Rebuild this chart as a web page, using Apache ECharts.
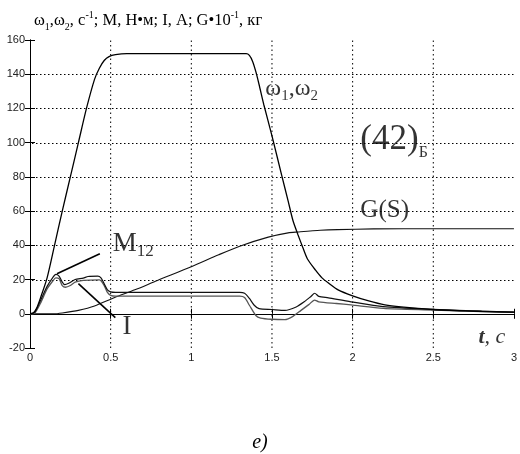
<!DOCTYPE html>
<html>
<head>
<meta charset="utf-8">
<script src="https://cdn.jsdelivr.net/npm/echarts@6/dist/echarts.min.js"></script>
<style>
  html, body { margin: 0; padding: 0; background: #fff; }
  #chart { width: 520px; height: 454px; }
</style>
</head>
<body>
<div id="chart"></div>
<script>
// Tick labels
const xTickLabels = ['0', '0.5', '1', '1.5', '2', '2.5', '3'];
const yTickLabels = ['-20', '0', '20', '40', '60', '80', '100', '120', '140', '160'];

// Angular speeds ω1, ω2 (c^-1) versus time t (c)
const omega = [
  [0, 0], [0.02, 0.5], [0.04, 3], [0.064, 9], [0.106, 21], [0.152, 40], [0.2, 60],
  [0.25, 80], [0.3, 100], [0.35, 120], [0.4, 137], [0.43, 143.5], [0.46, 148],
  [0.49, 150.3], [0.53, 151.4], [0.6, 152], [1.34, 152], [1.36, 151], [1.38, 147.5],
  [1.4, 141.5], [1.42, 134], [1.45, 122], [1.5, 104], [1.56, 81], [1.6, 66],
  [1.63, 54.5], [1.66, 46.5], [1.69, 39], [1.72, 32], [1.77, 25.5], [1.81, 21],
  [1.85, 18], [1.91, 14], [2.0, 10.5], [2.1, 7.5], [2.2, 5.2], [2.3, 4], [2.5, 2.5],
  [2.7, 1.7], [2.85, 1.3], [3, 1]
];

// Torque M12 (Н·м)
const torqueM12 = [
  [0, 0], [0.03, 1], [0.064, 7.5], [0.106, 16], [0.14, 21], [0.16, 23], [0.18, 22],
  [0.2, 18.5], [0.215, 17], [0.24, 17.8], [0.28, 20], [0.33, 20.8], [0.36, 21.8],
  [0.42, 22], [0.44, 21], [0.46, 17.5], [0.48, 14], [0.5, 12.8], [0.53, 12.5],
  [1.3, 12.5], [1.33, 12], [1.36, 9], [1.39, 5], [1.42, 3], [1.5, 2.5], [1.58, 2],
  [1.65, 4], [1.7, 7], [1.74, 10], [1.765, 12], [1.79, 10.2], [1.85, 9.3],
  [1.99, 7], [2.19, 4.2], [2.5, 2.6], [2.8, 1.5], [3, 1]
];

// Current I (A)
const currentI = [
  [0, 0], [0.03, 0.5], [0.064, 6], [0.106, 14.5], [0.14, 19], [0.16, 21], [0.18, 20.5],
  [0.2, 16.5], [0.22, 15.5], [0.25, 16.5], [0.28, 18.5], [0.33, 19.5], [0.43, 19.8],
  [0.46, 16.5], [0.48, 12.5], [0.5, 10.8], [0.53, 10.3], [1.3, 10.3], [1.33, 9.5],
  [1.36, 5], [1.4, -1], [1.43, -2.5], [1.5, -3.2], [1.58, -3.4], [1.63, -1.5],
  [1.68, 2], [1.73, 5.5], [1.764, 8], [1.79, 7], [1.9, 6], [1.99, 5.2], [2.19, 3.2],
  [2.5, 2.2], [2.8, 1.2], [3, 0.8]
];

// Mass G(S), scaled by 10^-1 (кг)
const massG = [
  [0, 0], [0.15, 0], [0.2, 0.5], [0.3, 2], [0.4, 4.5], [0.525, 9.5], [0.65, 14],
  [0.79, 19.5], [1.0, 27.5], [1.17, 34.5], [1.3, 39.5], [1.477, 44.8], [1.6, 47.3],
  [1.66, 47.8], [1.8, 48.8], [1.907, 49.2], [2.13, 49.6], [2.5, 49.7], [3, 49.7]
];

const serif = '"Liberation Serif", "DejaVu Serif", serif';

const chart = echarts.init(document.getElementById('chart'), null, { renderer: 'canvas' });

const curve = (data, color, width) => ({
  type: 'line', data, showSymbol: false, smooth: 0.25, animation: false,
  lineStyle: { color, width }, z: 3
});

const pointer = (from, to) => ({
  type: 'line', data: [from, to], showSymbol: false, animation: false,
  lineStyle: { color: '#000', width: 1.6 }, z: 4
});

const textMark = (pos, text, rich) => ({
  type: 'scatter', symbolSize: 0, animation: false, silent: true, z: 5,
  data: [pos],
  label: {
    show: true, position: 'right', distance: 0,
    formatter: text, rich
  }
});

// Grid through the inner ticks
const innerX = xTickLabels.slice(1, -1).map(Number);
const innerY = yTickLabels.slice(1, -1).map(Number);

// vertical dotted lines
const verticalGrid = innerX.map(v => ({
  type: 'line', data: [[v, -20], [v, 160]], showSymbol: false, silent: true,
  animation: false, z: 1, lineStyle: { color: '#000', type: [1.5, 3], width: 1 }
}));

// horizontal dotted lines, built from small filled dots along each tick level
const horizontalGrid = {
  type: 'custom', silent: true, animation: false, z: 1,
  data: innerY.map(v => [v]),
  encode: { y: 0 },
  renderItem: (params, api) => {
    const v = api.value(0);
    const left = api.coord([0, v]);
    const right = api.coord([3, v]);
    const y = Math.round(left[1]);
    const dots = [];
    for (let x = Math.round(left[0]) + 2; x < right[0] - 1; x += 4) {
      dots.push({
        type: 'rect',
        shape: { x: x, y: y, width: 1.5, height: 1 },
        style: { fill: '#000' }
      });
    }
    return { type: 'group', children: dots };
  }
};

const axisCommon = {
  type: 'value',
  axisLine: { show: true, lineStyle: { color: '#000', width: 1 } },
  axisTick: { show: true, inside: true, length: 5, lineStyle: { color: '#000', width: 1 } },
  splitLine: { show: false }
};

chart.setOption({
  animation: false,
  backgroundColor: '#fff',
  title: [
    {
      left: 29, top: 5,
      text: '{t|ω}{sb|1}{t|,ω}{sb|2}{t|, c}{sp|-1}{t|; M, Н•м; I, A; G•10}{sp|-1}{t|, кг}',
      textStyle: {
        fontWeight: 'normal',
        rich: {
          t: { fontFamily: serif, fontSize: 16.5, fontWeight: 'normal', color: '#000', lineHeight: 22 },
          sb: { fontFamily: serif, fontSize: 10, fontWeight: 'normal', color: '#000', verticalAlign: 'bottom', lineHeight: 22 },
          sp: { fontFamily: serif, fontSize: 10, fontWeight: 'normal', color: '#000', verticalAlign: 'top', lineHeight: 22 }
        }
      }
    },
    {
      left: 'center', top: 428,
      text: 'e)',
      textStyle: { fontFamily: serif, fontSize: 20, fontStyle: 'italic', fontWeight: 'normal', color: '#000' }
    }
  ],
  grid: { left: 30, right: 2, top: 40, bottom: 106, show: false },
  xAxis: [
    Object.assign({}, axisCommon, {
      min: 0, max: 3, interval: 0.5, position: 'bottom',
      axisLabel: {
        margin: 4, color: '#222', fontFamily: '"Liberation Sans", Arial, sans-serif', fontSize: 11,
        formatter: v => xTickLabels[Math.round(v / 0.5)]
      }
    }),
    Object.assign({}, axisCommon, {
      min: 0, max: 3, interval: 0.5, position: 'top',
      axisLabel: { show: false }
    })
  ],
  yAxis: [
    Object.assign({}, axisCommon, {
      min: -20, max: 160, interval: 20, position: 'left',
      axisLabel: {
        margin: 5, color: '#222', fontFamily: '"Liberation Sans", Arial, sans-serif', fontSize: 11,
        formatter: v => yTickLabels[Math.round((v + 20) / 20)]
      }
    }),
    Object.assign({}, axisCommon, {
      min: -20, max: 160, interval: 20, position: 'right',
      axisLabel: { show: false }
    })
  ],
  series: verticalGrid.concat([
    horizontalGrid,
    curve(massG, '#111', 1.1),
    curve(currentI, '#555', 1.3),
    curve(torqueM12, '#111', 1.2),
    curve(omega, '#000', 1.3),
    pointer([0.433, 35.1], [0.167, 23.4]),
    pointer([0.30, 17.6], [0.529, -2.2]),
    textMark([1.459, 131.6], '{m|ω}{s|1}{m|,ω}{s|2}', {
      m: { fontFamily: serif, fontSize: 24, color: '#000', lineHeight: 30 },
      s: { fontFamily: serif, fontSize: 15, color: '#000', verticalAlign: 'bottom', lineHeight: 30 }
    }),
    textMark([2.048, 101.8], '{m|(42)}{s|Б}', {
      m: { fontFamily: serif, fontSize: 35, color: '#000', lineHeight: 42 },
      s: { fontFamily: serif, fontSize: 16, color: '#000', verticalAlign: 'bottom', lineHeight: 42 }
    }),
    textMark([2.048, 60.4], '{m|G(S)}', {
      m: { fontFamily: serif, fontSize: 25, color: '#000', lineHeight: 28 }
    }),
    textMark([0.513, 40.6], '{m|M}{s|12}', {
      m: { fontFamily: serif, fontSize: 27, color: '#000', lineHeight: 32 },
      s: { fontFamily: serif, fontSize: 17, color: '#000', verticalAlign: 'bottom', lineHeight: 32 }
    }),
    textMark([0.574, -7.9], '{m|I}', {
      m: { fontFamily: serif, fontSize: 27, color: '#000', lineHeight: 30 }
    }),
    textMark([2.78, -13.7], '{b|t}{i|, c}', {
      b: { fontFamily: serif, fontSize: 22, fontStyle: 'italic', fontWeight: 'bold', color: '#000', lineHeight: 24 },
      i: { fontFamily: serif, fontSize: 22, fontStyle: 'italic', color: '#000', lineHeight: 24 }
    })
  ])
});
</script>
</body>
</html>
